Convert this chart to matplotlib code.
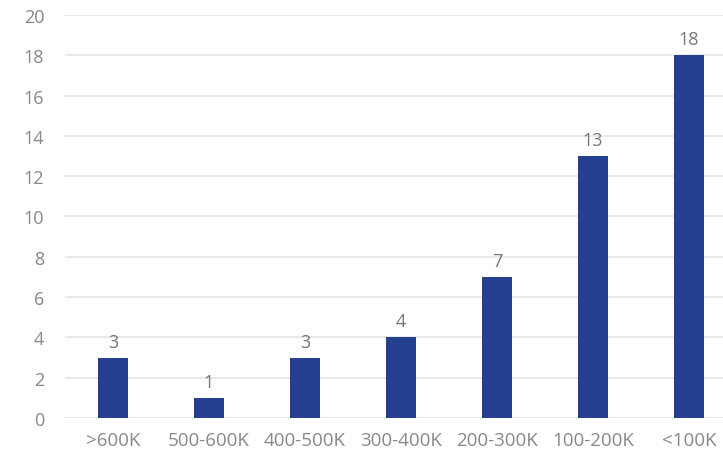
import matplotlib.pyplot as plt

categories = [">600K", "500-600K", "400-500K", "300-400K", "200-300K", "100-200K", "<100K"]
counts = [3, 1, 3, 4, 7, 13, 18]
y_ticks = [0, 2, 4, 6, 8, 10, 12, 14, 16, 18, 20]

plt.rcParams["font.family"] = ["Open Sans", "DejaVu Sans"]

fig = plt.figure(figsize=(7.23, 4.56), dpi=100)
ax = fig.add_axes([0.0899, 0.0811, 0.9101, 0.884])

x = range(len(categories))
bars = ax.bar(x, counts, width=0.31, color="#24408e", zorder=3)
ax.bar_label(bars, labels=[str(v) for v in counts], padding=5,
             color="#777777", fontsize=13)

ax.set_xlim(-0.5, 6.354)
ax.set_ylim(0, 20)
ax.set_yticks(y_ticks)
ax.set_xticks(list(x))
ax.set_xticklabels(categories, fontsize=13.5)
ax.grid(axis="y", color="#e4e4e4", linewidth=1.2, zorder=0)
ax.tick_params(axis="both", length=0, colors="#888888")
ax.tick_params(axis="y", pad=15, labelsize=13)
ax.tick_params(axis="x", pad=9)
for s in ax.spines.values():
    s.set_visible(False)

fig.savefig("out.png", dpi=100)
